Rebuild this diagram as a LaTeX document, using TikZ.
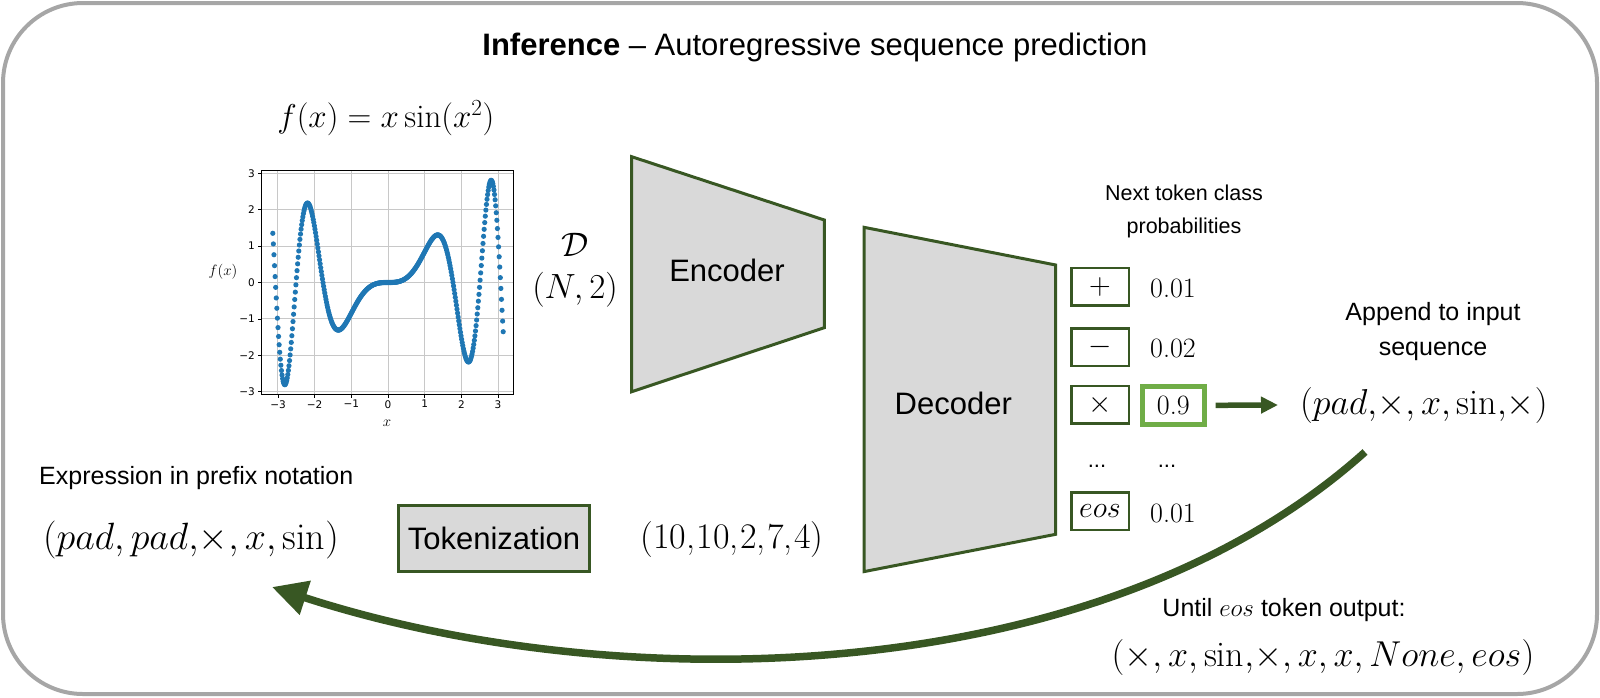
\RequirePackage{fix-cm}
\documentclass[tikz,border=0pt]{standalone}
\usepackage{fontspec}
\newfontfamily\arial{Liberation Sans}
\newfontfamily\djv{DejaVu Sans}
\usetikzlibrary{arrows.meta}
\definecolor{dkgreen}{HTML}{385723}
\definecolor{ltgreen}{HTML}{70AD47}
\definecolor{boxgray}{HTML}{D9D9D9}
\definecolor{framegray}{HTML}{A6A6A6}
\definecolor{mplblue}{HTML}{1F77B4}
\definecolor{gridc}{HTML}{C8C8C8}
\newcommand{\fsz}[2]{\fontsize{#1}{#2}\selectfont}
\tikzset{
  block/.style={draw=dkgreen, line width=3pt, fill=boxgray, line join=miter},
  tokbox/.style={draw=dkgreen, line width=2.5pt, minimum width=57.5pt, minimum height=37.5pt, inner sep=0pt, font=\fsz{30}{36}},
  probtxt/.style={inner sep=0pt, font=\fsz{28}{32}},
  sanslbl/.style={inner sep=0pt, font=\arial\fsz{25}{35}, align=center},
  mathlbl/.style={inner sep=0pt, font=\fsz{36}{42}},
  ticklbl/.style={inner sep=0pt, font=\djv\fsz{10.5}{12}},
  gridline/.style={draw=gridc, line width=1pt},
  arrowthin/.style={draw=dkgreen, line width=5.5pt, -{Triangle[length=17pt,width=16pt]}},
  arrowbig/.style={draw=dkgreen, line width=7.5pt, -{Triangle[length=35pt,width=34pt]}},
}
\begin{document}
\begin{tikzpicture}[x=1pt,y=-1pt]
\useasboundingbox (0,0) rectangle (1600,697);
\draw[framegray, line width=4pt, rounded corners=80pt] (3,3) rectangle (1597,694);

% title
\node[anchor=base, inner sep=0pt, font=\arial\fsz{31}{35}] (title) at (815,55) {\textbf{Inference} – Autoregressive sequence prediction};

% function label
\node[inner sep=0pt, font=\fsz{33}{38}] (fx) at (385.8,118) {$f(x) = x\sin(x^2)$};

% plot
\foreach \k in {-3,...,3} {
  \draw[gridline] ({388+36.67*\k},170) -- ({388+36.67*\k},394);
  \draw[gridline] (261,{282.5-36.4*\k}) -- (513,{282.5-36.4*\k});
  \draw[line width=0.8pt] ({388+36.67*\k},394) -- ({388+36.67*\k},397.5);
  \draw[line width=0.8pt] (261,{282.5-36.4*\k}) -- (257.5,{282.5-36.4*\k});
}
\foreach \k/\t in {-3/−3,-2/−2,-1/−1,0/0,1/1,2/2,3/3} {
  \node[ticklbl, anchor=north] (xt\k) at ({388+36.67*\k},400) {\t};
  \node[ticklbl, anchor=east] (yt\k) at (255,{282.5-36.4*\k}) {\t};
}
\foreach \i in {0,...,399} {
  \pgfmathsetmacro\xx{-pi+2*pi*\i/399}
  \pgfmathsetmacro\yy{\xx*sin(deg(\xx*\xx))}
  \fill[mplblue] ({388+36.67*\xx},{282.5-36.4*\yy}) circle (2.6pt);
}
\draw[line width=0.9pt] (261,170) rectangle (513,394);
\node[inner sep=0pt, font=\fsz{15}{18}] (ylab) at (223,272) {$f(x)$};
\node[inner sep=0pt, font=\fsz{15}{18}] (xlab) at (387,423) {$x$};

% dataset label
\node[inner sep=0pt, font=\fsz{34}{38}] (D) at (575,245) {$\mathcal{D}$};
\node[inner sep=0pt, font=\fsz{35}{40}] (N2) at (575,290) {$(N,2)$};

% encoder / decoder
\draw[block] (631.7,156.7) -- (824.3,220) -- (824.3,327.7) -- (631.7,391.7) -- cycle;
\node[inner sep=0pt, font=\arial\fsz{31}{36}] (enc) at (727,270) {Encoder};
\draw[block] (864,227.3) -- (1055.7,265) -- (1055.7,534.3) -- (864,571.6) -- cycle;
\node[inner sep=0pt, font=\arial\fsz{31}{36}] (dec) at (953.3,403.3) {Decoder};

% next token probabilities
\node[sanslbl, font=\arial\fsz{21.5}{33}] (nexttok) at (1184,211) {Next token class\\probabilities};
\node[tokbox] (tplus) at (1100,286.7) {$+$};
\node[tokbox] (tminus) at (1100,347.3) {$-$};
\node[tokbox] (ttimes) at (1100,404.5) {$\times$};
\node[tokbox] (teos) at (1100,511) {$eos$};
\node[probtxt] (pplus) at (1173,288) {0.01};
\node[probtxt] (pminus) at (1173,348) {0.02};
\node[probtxt, draw=ltgreen, line width=5pt, minimum width=61.7pt, minimum height=37.7pt] (ptimes) at (1173.3,405.3) {0.9};
\node[probtxt] (peos) at (1173,513) {0.01};
\node[anchor=base, inner sep=0pt, font=\arial\fsz{22}{26}] (dots1) at (1097,467) {...};
\node[anchor=base, inner sep=0pt, font=\arial\fsz{22}{26}] (dots2) at (1167,467) {...};

% appended sequence
\node[sanslbl] (append) at (1433,332) {Append to input\\sequence};
\node[mathlbl, anchor=west] (seq) at (1300,405) {$(pad{,}{\times},x,\mathrm{sin}{,}{\times})$};
\draw[arrowthin] ([xshift=9pt]ptimes.east) -- ([xshift=-22pt]seq.west);

% bottom left
\node[sanslbl, anchor=west] (exprlbl) at (39,478) {Expression in prefix notation};
\node[mathlbl, anchor=west, font=\fsz{38}{42}] (expr) at (43,540) {$(pad,pad{,}{\times},x,\mathrm{sin})$};
\node[block, inner sep=0pt, minimum width=191pt, minimum height=66pt, font=\arial\fsz{31}{36}] (tok) at (494,538.5) {Tokenization};
\node[mathlbl, font=\fsz{36}{40}] (nums) at (732,540) {(10,\kern1.5pt10,\kern1.5pt2,\kern1.5pt7,\kern1.5pt4)};

% bottom right
\node[sanslbl] (until) at (1284,610) {Until $eos$ token output:};
\node[mathlbl] (final) at (1323,657) {$({\times},x,\mathrm{sin}{,}{\times},x,x,None,eos)$};

% loop arrow
\coordinate (cs) at (1365,452);
\coordinate (ce) at (272,587);
\draw[arrowbig] (cs) .. controls (1100,690) and (620,700) .. (ce);
\end{tikzpicture}
\end{document}
